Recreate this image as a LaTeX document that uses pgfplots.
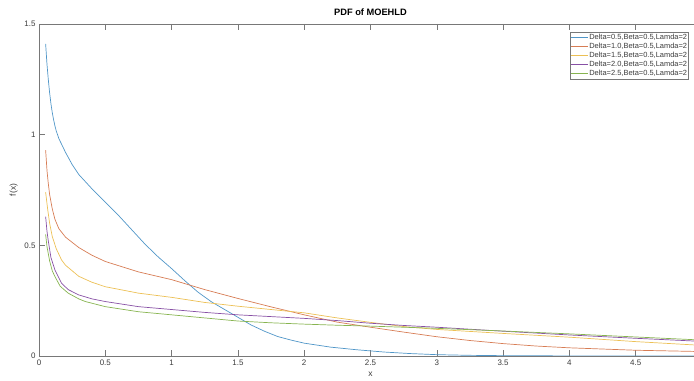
\documentclass[border=0pt]{standalone}
\usepackage{pgfplots}
\pgfplotsset{compat=1.18}
\usepackage{fontspec}
\setmainfont{Liberation Sans}
\definecolor{c1}{RGB}{80,150,200}
\definecolor{c2}{RGB}{215,125,85}
\definecolor{c3}{RGB}{236,192,85}
\definecolor{c4}{RGB}{135,80,165}
\definecolor{c5}{RGB}{135,180,80}
\definecolor{axc}{RGB}{120,120,120}
\definecolor{txc}{RGB}{60,60,60}
\begin{document}
\begin{tikzpicture}
\path[use as bounding box] (0,0) rectangle (694bp,381bp);
\begin{axis}[
  at={(39bp,25bp)}, anchor=south west,
  scale only axis, width=663bp, height=332bp,
  xmin=0, xmax=5, ymin=0, ymax=1.5,
  xtick={0,0.5,1,1.5,2,2.5,3,3.5,4,4.5},
  xticklabels={0,0.5,1,1.5,2,2.5,3,3.5,4,4.5},
  ytick={0,0.5,1,1.5},
  yticklabels={0,0.5,1,1.5},
  tick align=inside, major tick length=6bp,
  axis line style={axc, line width=0.6bp},
  tick style={axc, line width=0.6bp},
  ticklabel style={font=\fontsize{8}{9}\selectfont, text=txc},
  title={\textbf{PDF of MOEHLD}},
  title style={font=\fontsize{9.3}{11}\selectfont, yshift=-1bp},
  xlabel={x}, ylabel={f(x)},
  label style={font=\fontsize{8.5}{10}\selectfont, text=txc},
  legend cell align=left,
  legend style={at={(axis description cs:0.8005,0.976)}, anchor=north west,
    draw=axc, line width=0.5bp, inner xsep=1bp, inner ysep=1bp,
    font=\fontsize{7.5}{9}\selectfont, text=txc,
    nodes={inner sep=0.6bp, text height=6bp, text depth=1.8bp}},
  legend image code/.code={\draw[#1, line width=0.7bp] (0bp,0bp) -- (17bp,0bp);},
  every axis plot/.append style={line width=0.7bp},
]
\addplot[c1] coordinates {(0.05,1.41)(0.06,1.32)(0.07,1.25)(0.08,1.19)(0.09,1.14)(0.1,1.10)(0.11,1.068)(0.12,1.04)(0.13,1.017)(0.15,0.982)(0.2,0.92)(0.25,0.865)(0.3,0.82)(0.4,0.755)(0.5,0.695)(0.6,0.635)(0.7,0.57)(0.8,0.505)(0.9,0.447)(1.0,0.395)(1.1,0.34)(1.2,0.288)(1.3,0.245)(1.4,0.21)(1.5,0.175)(1.6,0.14)(1.7,0.112)(1.8,0.088)(1.9,0.072)(2.0,0.058)(2.2,0.04)(2.4,0.028)(2.6,0.018)(2.8,0.011)(3.0,0.006)(3.25,0.003)(3.5,0.0015)(4.0,0.0004)(4.5,0.0001)(5.0,0)};
\addlegendentry{Delta=0.5,Beta=0.5,Lamda=2}
\addplot[c2] coordinates {(0.05,0.93)(0.06,0.84)(0.07,0.78)(0.08,0.73)(0.1,0.665)(0.12,0.618)(0.15,0.575)(0.2,0.537)(0.3,0.49)(0.4,0.455)(0.5,0.427)(0.75,0.38)(1.0,0.345)(1.25,0.30)(1.5,0.26)(1.75,0.222)(2.0,0.186)(2.25,0.153)(2.5,0.13)(2.75,0.108)(3.0,0.087)(3.25,0.07)(3.5,0.056)(3.75,0.045)(4.0,0.037)(4.5,0.026)(5.0,0.02)};
\addlegendentry{Delta=1.0,Beta=0.5,Lamda=2}
\addplot[c3] coordinates {(0.05,0.74)(0.065,0.665)(0.08,0.60)(0.1,0.54)(0.13,0.485)(0.17,0.434)(0.2,0.41)(0.3,0.36)(0.4,0.333)(0.5,0.313)(0.75,0.284)(1.0,0.265)(1.25,0.242)(1.5,0.225)(1.75,0.21)(2.0,0.195)(2.25,0.172)(2.5,0.152)(2.75,0.133)(3.0,0.12)(3.5,0.102)(4.0,0.085)(4.5,0.065)(5.0,0.048)};
\addlegendentry{Delta=1.5,Beta=0.5,Lamda=2}
\addplot[c4] coordinates {(0.05,0.63)(0.06,0.565)(0.07,0.52)(0.09,0.445)(0.12,0.389)(0.17,0.329)(0.22,0.30)(0.3,0.276)(0.4,0.258)(0.5,0.246)(0.75,0.223)(1.0,0.21)(1.25,0.197)(1.5,0.186)(1.75,0.178)(2.0,0.17)(2.25,0.16)(2.5,0.148)(2.75,0.138)(3.0,0.13)(3.5,0.112)(4.0,0.095)(4.5,0.08)(5.0,0.066)};
\addlegendentry{Delta=2.0,Beta=0.5,Lamda=2}
\addplot[c5] coordinates {(0.05,0.55)(0.06,0.495)(0.08,0.43)(0.1,0.385)(0.12,0.359)(0.16,0.315)(0.22,0.284)(0.3,0.258)(0.35,0.246)(0.5,0.223)(0.75,0.20)(1.0,0.186)(1.25,0.172)(1.5,0.158)(1.75,0.15)(2.0,0.144)(2.25,0.139)(2.5,0.135)(2.75,0.13)(3.0,0.125)(3.5,0.113)(4.0,0.1)(4.5,0.086)(5.0,0.072)};
\addlegendentry{Delta=2.5,Beta=0.5,Lamda=2}
\end{axis}
\end{tikzpicture}
\end{document}
